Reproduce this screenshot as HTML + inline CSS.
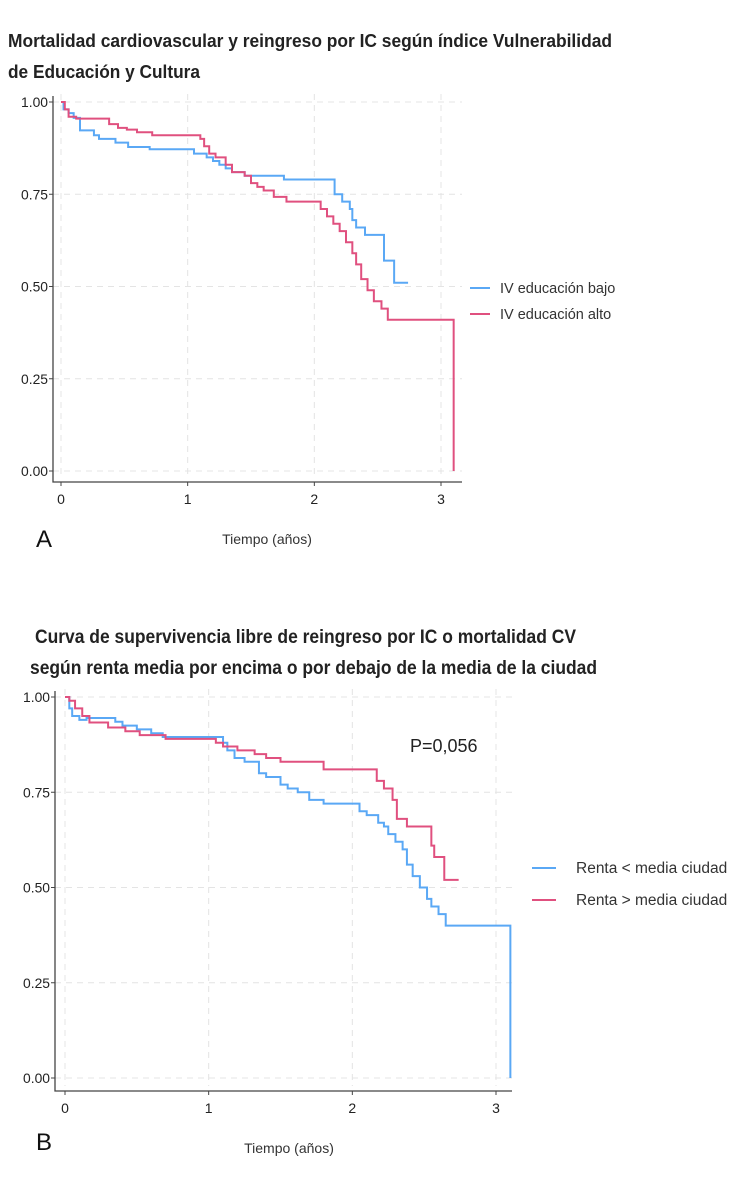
<!DOCTYPE html>
<html><head><meta charset="utf-8"><style>
body{margin:0;background:#fff;}
svg{display:block;font-family:"Liberation Sans",sans-serif;}
.tick{font-size:14px;fill:#222;}
</style></head><body>
<svg id="chart" width="750" height="1200">
<text x="8" y="47" font-size="18" font-weight="bold" fill="#222" textLength="604" lengthAdjust="spacingAndGlyphs">Mortalidad cardiovascular y reingreso por IC según índice Vulnerabilidad</text>
<text x="8" y="78" font-size="18" font-weight="bold" fill="#222" textLength="192" lengthAdjust="spacingAndGlyphs">de Educación y Cultura</text>
<text x="35" y="643" font-size="19" font-weight="bold" fill="#222" textLength="541" lengthAdjust="spacingAndGlyphs">Curva de supervivencia libre de reingreso por IC o mortalidad CV</text>
<text x="30" y="674" font-size="19" font-weight="bold" fill="#222" textLength="567" lengthAdjust="spacingAndGlyphs">según renta media por encima o por debajo de la media de la ciudad</text>
<text x="36" y="547" font-size="24" fill="#111">A</text>
<text x="36" y="1150" font-size="24" fill="#111">B</text>
<text x="410" y="752" font-size="18" fill="#222">P=0,056</text>
</svg>
<script>
const xTicks=[0,1,2,3];
const yTicks=[0,0.25,0.5,0.75,1];
const yTickLabels=["0.00","0.25","0.50","0.75","1.00"];
const aBlueT=[0,0.02,0.06,0.1,0.15,0.26,0.3,0.43,0.53,0.7,1.05,1.15,1.2,1.25,1.3,1.35,1.45,1.76,2.16,2.22,2.28,2.3,2.33,2.4,2.55,2.63,2.74];
const aBlueS=[1,0.98,0.97,0.957,0.923,0.91,0.9,0.89,0.878,0.872,0.86,0.85,0.84,0.83,0.82,0.81,0.8,0.79,0.75,0.73,0.71,0.68,0.66,0.64,0.57,0.51,0.51];
const aRedT=[0,0.03,0.06,0.12,0.38,0.45,0.52,0.6,0.72,1.1,1.13,1.17,1.22,1.3,1.35,1.45,1.5,1.55,1.6,1.68,1.78,2.05,2.1,2.15,2.2,2.25,2.3,2.33,2.37,2.42,2.47,2.53,2.58,3.1,3.1];
const aRedS=[1,0.98,0.96,0.955,0.94,0.93,0.925,0.918,0.91,0.9,0.88,0.86,0.85,0.83,0.81,0.8,0.78,0.77,0.76,0.743,0.73,0.71,0.69,0.67,0.65,0.62,0.59,0.56,0.52,0.49,0.46,0.44,0.41,0.41,0];
const bRedT=[0,0.03,0.07,0.12,0.17,0.3,0.42,0.52,0.7,1.05,1.1,1.2,1.32,1.4,1.5,1.8,2.17,2.22,2.28,2.31,2.38,2.55,2.57,2.64,2.74];
const bRedS=[1,0.99,0.97,0.95,0.933,0.92,0.91,0.9,0.89,0.88,0.87,0.86,0.85,0.84,0.83,0.81,0.78,0.76,0.73,0.68,0.66,0.61,0.58,0.52,0.52];
const bBlueT=[0,0.03,0.05,0.1,0.15,0.35,0.4,0.5,0.6,0.68,1.1,1.13,1.18,1.25,1.35,1.4,1.5,1.55,1.62,1.7,1.8,2.05,2.1,2.18,2.22,2.25,2.3,2.35,2.38,2.42,2.47,2.52,2.55,2.6,2.65,3.1,3.1];
const bBlueS=[1,0.97,0.95,0.94,0.945,0.935,0.925,0.915,0.905,0.895,0.88,0.86,0.84,0.83,0.8,0.79,0.77,0.76,0.75,0.73,0.72,0.70,0.69,0.67,0.66,0.64,0.62,0.60,0.56,0.53,0.50,0.47,0.45,0.43,0.40,0.40,0];
const NS="http://www.w3.org/2000/svg";
const svg=document.getElementById('chart');
function mk(tag,attrs,parent){const e=document.createElementNS(NS,tag);for(const k in attrs)e.setAttribute(k,attrs[k]);(parent||svg).appendChild(e);return e;}
function panel(p){
  const sx=t=>p.x0+t*(p.x3-p.x0)/3, sy=s=>p.y0+s*(p.y1-p.y0);
  const g=mk('g',{});
  
  
  xTicks.forEach(t=>{const l=mk('line',{x1:sx(t),x2:sx(t),y1:p.y1-8,y2:p.y0+8,stroke:'#e4e4e4','stroke-dasharray':'6,5'},g);
    });
  yTicks.forEach(s=>{const l=mk('line',{x1:p.left,x2:p.right,y1:sy(s),y2:sy(s),stroke:'#e4e4e4','stroke-dasharray':'6,5'},g);
    });
  const ax=mk('path',{d:`M${p.left} ${p.y1-6}V${p.bottom}H${p.right}`,stroke:'#444','stroke-width':1.3,fill:'none'},g);
  
  xTicks.forEach(t=>{mk('line',{x1:sx(t),x2:sx(t),y1:p.bottom,y2:p.bottom+4,stroke:'#444'},g);
    const tx=mk('text',{x:sx(t),y:p.bottom+22,'text-anchor':'middle',class:'tick','font-size':15},g);tx.textContent=t;
    });
  yTicks.forEach((s,i)=>{mk('line',{x1:p.left-4,x2:p.left,y1:sy(s),y2:sy(s),stroke:'#444'},g);
    const tx=mk('text',{x:p.left-5,y:sy(s)+5,'text-anchor':'end',class:'tick',textLength:27,lengthAdjust:'spacingAndGlyphs'},g);tx.textContent=yTickLabels[i];
    });
  const xt=mk('text',{x:p.xtitleX,y:p.bottom+62,'text-anchor':'middle','font-size':14,fill:'#333'},g);xt.textContent='Tiempo (años)';
  
  p.series.forEach((se,k)=>{
    let d=`M${sx(se.t[0])} ${sy(se.s[0])}`;
    for(let i=1;i<se.t.length;i++){d+=`H${sx(se.t[i])}V${sy(se.s[i])}`;}
    const pa=mk('path',{d:d,stroke:se.c,'stroke-width':2,fill:'none'},g);
    
    const ly=p.legY[k];
    const ll=mk('line',{x1:p.legX,x2:p.legX+p.legW,y1:ly,y2:ly,stroke:se.c,'stroke-width':2},g);
    
    const lt=mk('text',{x:p.legTX,y:ly+5,'font-size':p.legFS,fill:'#333'},g);lt.textContent=se.label;
    
  });
}
panel({name:'panel-a',x0:61,x3:441,y0:471,y1:102,left:53,right:462,bottom:482,xtitleX:267,
  legX:470,legW:20,legTX:500,legY:[288,314],legFS:14.5,
  series:[{name:'series-iv-bajo',t:aBlueT,s:aBlueS,c:'#5aa8f5',label:'IV educación bajo'},
          {name:'series-iv-alto',t:aRedT,s:aRedS,c:'#e0507f',label:'IV educación alto'}]});
panel({name:'panel-b',x0:65,x3:496,y0:1078,y1:697,left:55,right:512,bottom:1091,xtitleX:289,
  legX:532,legW:24,legTX:576,legY:[868,900],legFS:15.5,
  series:[{name:'series-renta-menor',t:bBlueT,s:bBlueS,c:'#5aa8f5',label:'Renta < media ciudad'},
          {name:'series-renta-mayor',t:bRedT,s:bRedS,c:'#e0507f',label:'Renta > media ciudad'}]});
</script>
</body></html>
